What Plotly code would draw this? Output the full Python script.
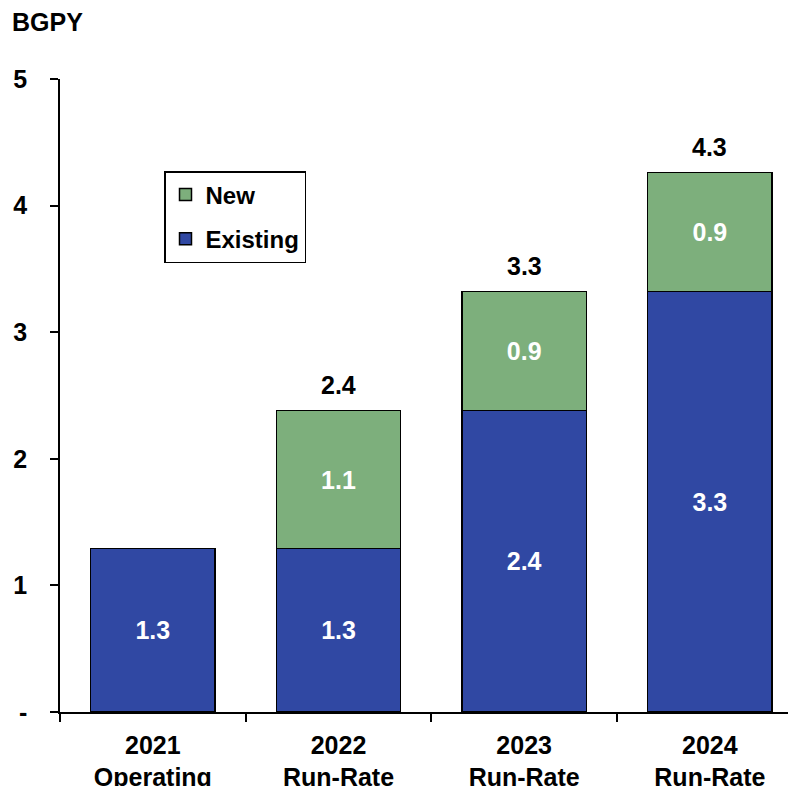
import plotly.graph_objects as go

categories = ["2021<br>Operating", "2022<br>Run-Rate", "2023<br>Run-Rate", "2024<br>Run-Rate"]
existing = [1.29, 1.29, 2.38, 3.32]
new = [None, 1.09, 0.94, 0.94]
ytick_vals = [0, 1, 2, 3, 4, 5]
ytick_text = ["-", "1", "2", "3", "4", "5"]

BLUE = "#3048A3"
GREEN = "#7DAF7C"
FONT = "Arial, Liberation Sans, sans-serif"
FS = 25

W, H = 788, 778  # page has 8px body margin

fig = go.Figure()
fig.add_trace(go.Bar(
    x=categories, y=existing, name="Existing", legendgroup="e", legendrank=2,
    marker=dict(color=BLUE, line=dict(color="black", width=1.5)),
    texttemplate="%{y:.1f}", textposition="inside", insidetextanchor="middle",
    textfont=dict(color="white", size=FS, family=FONT, weight="bold"),
    width=0.67,
))
fig.add_trace(go.Bar(
    x=categories, y=new, name="New", legendgroup="n", legendrank=1,
    marker=dict(color=GREEN, line=dict(color="black", width=1.5)),
    texttemplate="%{y:.1f}", textposition="inside", insidetextanchor="middle",
    textfont=dict(color="white", size=FS, family=FONT, weight="bold"),
    width=0.67,
))

for c, e, n in zip(categories, existing, new):
    if n is None:
        continue
    tot = e + n
    fig.add_annotation(x=c, y=tot, text=f"<b>{tot:.1f}</b>", showarrow=False,
                       yanchor="bottom", yshift=10,
                       font=dict(size=FS, color="black", family=FONT))

fig.update_layout(
    width=W, height=H,
    margin=dict(l=52, r=0, t=71, b=74, autoexpand=False),
    barmode="stack",
    plot_bgcolor="white", paper_bgcolor="white",
    font=dict(family=FONT, color="black", size=FS),
    title=dict(text="<b>BGPY</b>", xref="container", yref="container",
               x=4/W, xanchor="left", y=1-14/H, yanchor="middle",
               font=dict(size=FS, family=FONT, color="black")),
    legend=dict(x=(164-60)/736, y=(712-171)/633, xanchor="left", yanchor="top",
                bordercolor="black", borderwidth=1.5, bgcolor="white",
                traceorder="grouped", tracegroupgap=10,
                font=dict(size=24, family=FONT, weight="bold")),
    showlegend=True,
)
fig.update_xaxes(
    range=[-0.5, 3.464], showline=True, linecolor="black", linewidth=1.5,
    ticks="outside", tickson="boundaries", ticklen=8, tickcolor="black", tickwidth=1.5,
    tickfont=dict(size=FS, family=FONT, weight="bold"), ticklabelstandoff=10,
    showgrid=False, automargin=False,
)
fig.update_yaxes(
    range=[0, 5], tickvals=ytick_vals, ticktext=ytick_text,
    showline=True, linecolor="black", linewidth=1.5,
    ticks="outside", ticklen=8, tickcolor="black", tickwidth=1.5,
    tickfont=dict(size=FS, family=FONT, weight="bold"), ticklabelstandoff=18,
    showgrid=False, zeroline=False, automargin=False,
)

fig.write_html("out.html")
